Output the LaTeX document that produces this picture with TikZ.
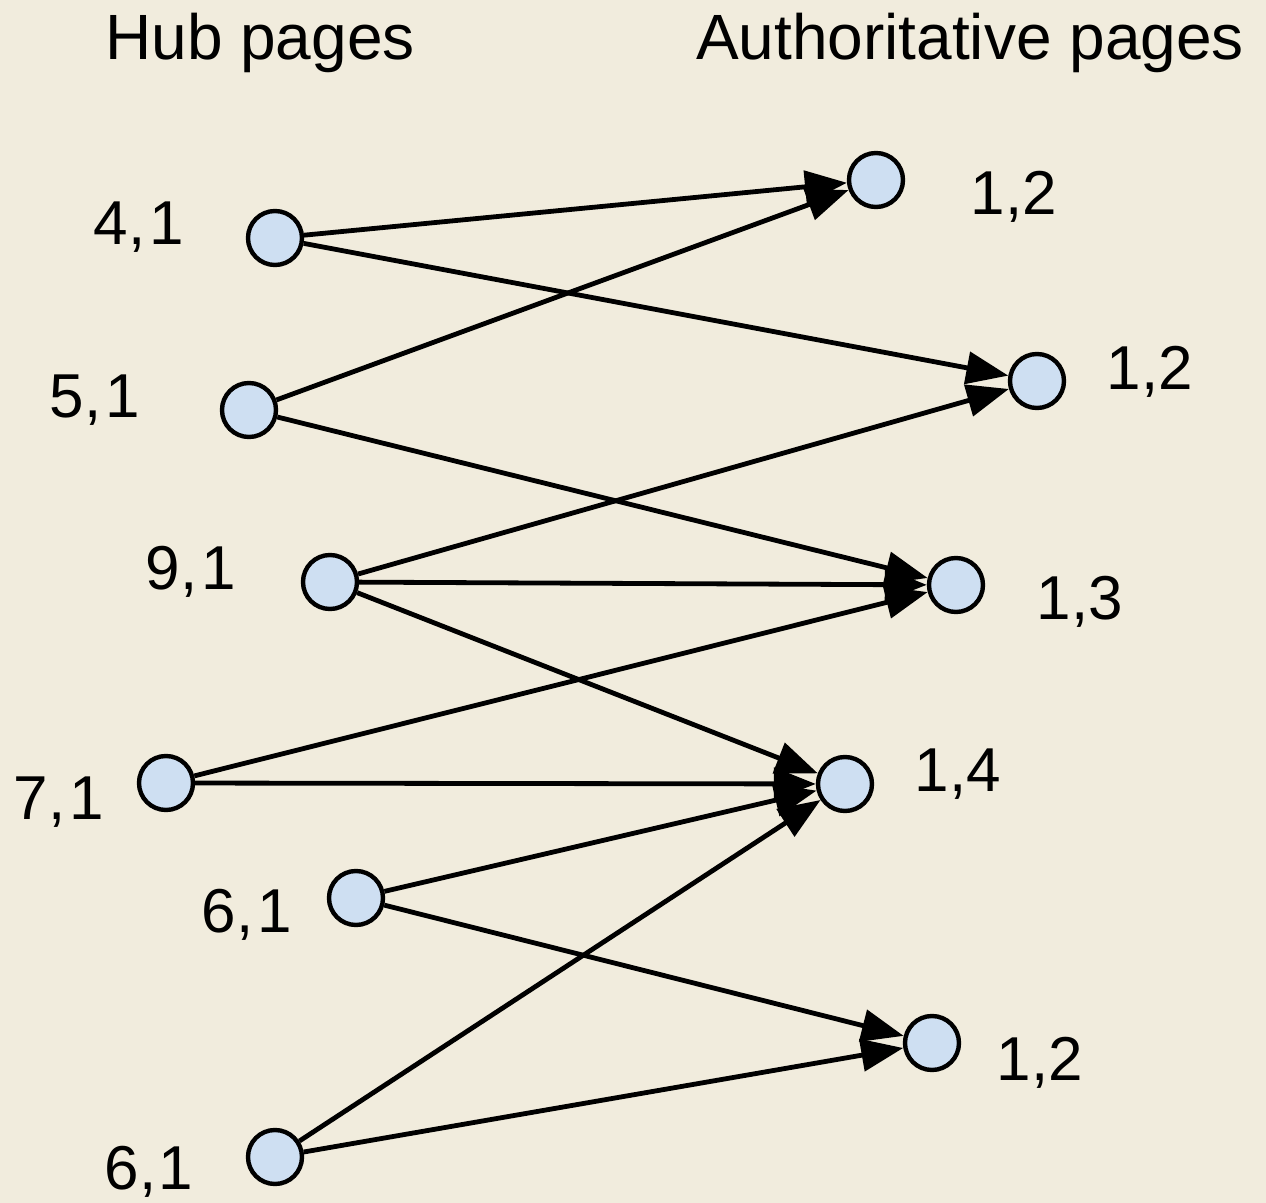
\documentclass[tikz,border=0pt]{standalone}
\usepackage{fontspec}
\setmainfont{Liberation Sans}
\usetikzlibrary{arrows.meta}
\definecolor{bgc}{RGB}{241,236,221}
\definecolor{nodefill}{RGB}{206,223,242}
\tikzset{
  page/.style={circle, draw=black, line width=2.2pt, fill=nodefill, minimum size=27pt, inner sep=0pt},
  lbl/.style={anchor=base, font=\fontsize{31pt}{36pt}\selectfont, inner sep=0pt},
  ttl/.style={anchor=base, font=\fontsize{32pt}{36pt}\selectfont, inner sep=0pt},
  link/.style={line width=2.4pt, -{Triangle[length=21pt,width=16pt]}}
}
\begin{document}
\begin{tikzpicture}[x=0.5pt,y=-0.5pt]
\fill[bgc] (0,0) rectangle (1266,1203);
\useasboundingbox (0,0) rectangle (1266,1203);
% titles
\node[ttl] (thub) at (260,60) {Hub pages};
\node[ttl] (tauth) at (970,60) {Authoritative pages};
% hub nodes
\node[page] (h1) at (275,238) {};
\node[page] (h2) at (249,410) {};
\node[page] (h3) at (330,582) {};
\node[page] (h4) at (166,783) {};
\node[page] (h5) at (356,898) {};
\node[page] (h6) at (275,1157) {};
% authority nodes
\node[page] (a1) at (876,180) {};
\node[page] (a2) at (1037,381) {};
\node[page] (a3) at (956,585) {};
\node[page] (a4) at (845,784) {};
\node[page] (a5) at (932,1043) {};
% labels
\node[lbl] (lh1) at (139,245) {4,\kern2pt1};
\node[lbl] (lh2) at (95,418) {5,\kern2pt1};
\node[lbl] (lh3) at (191,590) {9,\kern2pt1};
\node[lbl] (lh4) at (59,820) {7,\kern2pt1};
\node[lbl] (lh5) at (247,933) {6,\kern2pt1};
\node[lbl] (lh6) at (149,1189) {6,\kern1pt1};
\node[lbl] (la1) at (1014,215) {1,2};
\node[lbl] (la2) at (1150,390) {1,2};
\node[lbl] (la3) at (1080,620) {1,3};
\node[lbl] (la4) at (958,792) {1,4};
\node[lbl] (la5) at (1040,1080) {1,2};
% links
\draw[link] (h1) -- (a1);
\draw[link] (h1) -- (a2);
\draw[link] (h2) -- (a1);
\draw[link] (h2) -- (a3);
\draw[link] (h3) -- (a2);
\draw[link] (h3) -- (a3);
\draw[link] (h3) -- (a4);
\draw[link] (h4) -- (a3);
\draw[link] (h4) -- (a4);
\draw[link] (h5) -- (a4);
\draw[link] (h5) -- (a5);
\draw[link] (h6) -- (a4);
\draw[link] (h6) -- (a5);
\end{tikzpicture}
\end{document}
